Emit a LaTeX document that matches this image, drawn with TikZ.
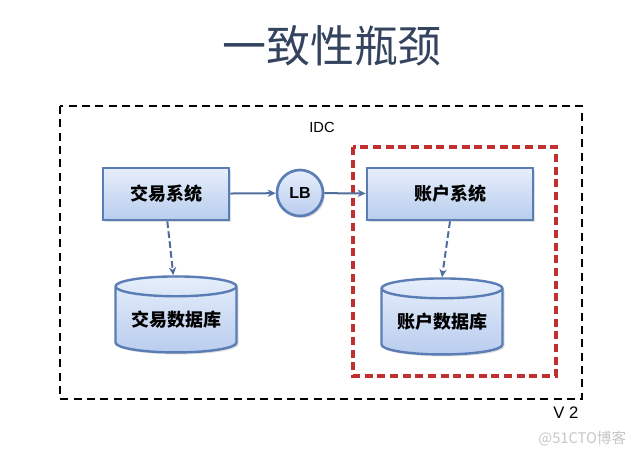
\documentclass[tikz,border=0pt]{standalone}
\usepackage{fontspec}
\setmainfont{Noto Sans CJK SC}
\newfontfamily\latinfont{Liberation Sans}
\usetikzlibrary{shapes.geometric,arrows.meta,shadows}
\definecolor{boxborder}{HTML}{5B7DB5}
\definecolor{boxtop}{HTML}{E6EEFB}
\definecolor{boxbot}{HTML}{B9CDEE}
\definecolor{arrowc}{HTML}{4F6E9C}
\definecolor{titlec}{HTML}{34445F}
\definecolor{redline}{HTML}{C0302F}
\tikzset{
  sysbox/.style={draw=boxborder, line width=2pt, top color=boxtop, bottom color=boxbot,
    minimum width=126*0.75pt, minimum height=52*0.75pt, inner sep=0pt,
    font=\fontsize{13.5}{16}\selectfont\bfseries, text=black,
    drop shadow={shadow xshift=1.5pt, shadow yshift=-1.5pt, opacity=0.25}},
  dbcyl/.style={cylinder, shape border rotate=90, aspect=0.22, draw=boxborder, line width=1.8pt,
    top color=boxtop, bottom color=boxbot, minimum width=121*0.75pt, minimum height=76*0.75pt,
    inner sep=0pt, font=\fontsize{13.5}{16}\selectfont\bfseries, text=black,
    drop shadow={shadow xshift=1.5pt, shadow yshift=-1.5pt, opacity=0.25}},
  lbcirc/.style={circle, draw=boxborder, line width=2pt, top color=boxtop, bottom color=boxbot,
    minimum size=46*0.75pt, inner sep=0pt, font=\latinfont\fontsize{12}{14}\selectfont\bfseries,
    drop shadow={shadow xshift=1.5pt, shadow yshift=-1.5pt, opacity=0.25}},
  flow/.style={draw=arrowc, line width=1.5pt, -{Stealth[length=6pt,width=5.5pt]}},
  dflow/.style={flow, dash pattern=on 5pt off 2.5pt},
}
\begin{document}
\begin{tikzpicture}[x=0.75pt,y=-0.75pt]
\useasboundingbox[fill=white] (0,0) rectangle (640,456);
% title
\node[text=titlec, font=\fontsize{33}{36}\selectfont] (title) at (332,46) {一致性瓶颈};
% outer IDC boundary
\draw[black, line width=1.5pt, dash pattern=on 6pt off 4pt] (60,106) rectangle (582,399);
\node[font=\latinfont\fontsize{11}{13}\selectfont] (idc) at (322,127) {IDC};
\node[font=\latinfont\fontsize{12.5}{14}\selectfont] (v2) at (566,413) {V 2};
% red boundary
\draw[redline, line width=2.4pt, dash pattern=on 6pt off 3.5pt] (353,147) rectangle (556,376);
% nodes
\node[sysbox] (trade) at (166,194) {交易系统};
\node[lbcirc] (lb) at (300,193) {LB};
\node[sysbox, minimum width=166*0.75pt] (acct) at (450,194) {账户系统};
\node[dbcyl] (tradedb) at (176,320) {交易数据库};
\node[dbcyl] (acctdb) at (442,322) {账户数据库};
% connectors
\draw[flow] (trade) -- (lb);
\draw[flow] (lb) -- (acct);
\draw[dflow] ([xshift=1pt]trade.south) -- ([xshift=-2pt]tradedb.north);
\draw[dflow] (acct.south) -- (acctdb.north);
% watermark
\node[text=black!22, font=\fontsize{11}{13}\selectfont, anchor=east] (wm) at (631,439) {@51CTO博客};
\end{tikzpicture}
\end{document}
